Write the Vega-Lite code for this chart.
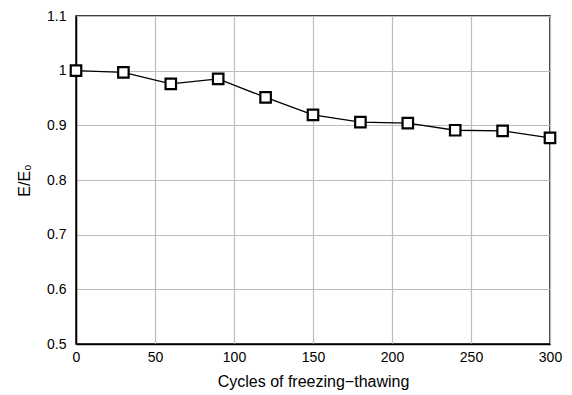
{
  "$schema": "https://vega.github.io/schema/vega-lite/v6.json",
  "width": 474,
  "height": 328,
  "autosize": {"type": "none"},
  "padding": {"left": 76, "top": 16, "right": 22, "bottom": 51},
  "background": "white",
  "config": {
    "font": "Liberation Sans",
    "view": {"stroke": "black", "strokeWidth": 1.5},
    "axis": {
      "labelFont": "Liberation Sans",
      "titleFont": "Liberation Sans",
      "labelFontSize": 14,
      "titleFontSize": 16,
      "labelColor": "black",
      "titleColor": "black",
      "titleFontWeight": "normal",
      "gridColor": "#bdbdbd",
      "gridWidth": 1.2,
      "gridOpacity": 1,
      "domainColor": "black",
      "domainWidth": 1.5,
      "ticks": false
    }
  },
  "data": {
    "values": [
      {"cycles": 0, "ratio": 1.0},
      {"cycles": 30, "ratio": 0.997},
      {"cycles": 60, "ratio": 0.976},
      {"cycles": 90, "ratio": 0.985},
      {"cycles": 120, "ratio": 0.951},
      {"cycles": 150, "ratio": 0.919},
      {"cycles": 180, "ratio": 0.906},
      {"cycles": 210, "ratio": 0.904},
      {"cycles": 240, "ratio": 0.891},
      {"cycles": 270, "ratio": 0.890},
      {"cycles": 300, "ratio": 0.877}
    ]
  },
  "encoding": {
    "x": {
      "field": "cycles",
      "type": "quantitative",
      "scale": {"domain": [0, 300], "nice": false},
      "axis": {"values": [0, 50, 100, 150, 200, 250, 300], "title": "Cycles of freezing−thawing", "labelPadding": 6, "titlePadding": 9, "labelFlush": false}
    },
    "y": {
      "field": "ratio",
      "type": "quantitative",
      "scale": {"domain": [0.5, 1.1], "nice": false, "zero": false},
      "axis": {"values": [0.5, 0.6, 0.7, 0.8, 0.9, 1.0, 1.1], "format": "~g", "title": "E/E₀", "labelPadding": 10, "titlePadding": 14, "labelFlush": false}
    }
  },
  "layer": [
    {"mark": {"type": "line", "color": "black", "strokeWidth": 1.3}},
    {"mark": {"type": "point", "shape": "square", "filled": true, "fill": "white", "stroke": "black", "strokeWidth": 2.2, "size": 110, "opacity": 1}}
  ]
}
